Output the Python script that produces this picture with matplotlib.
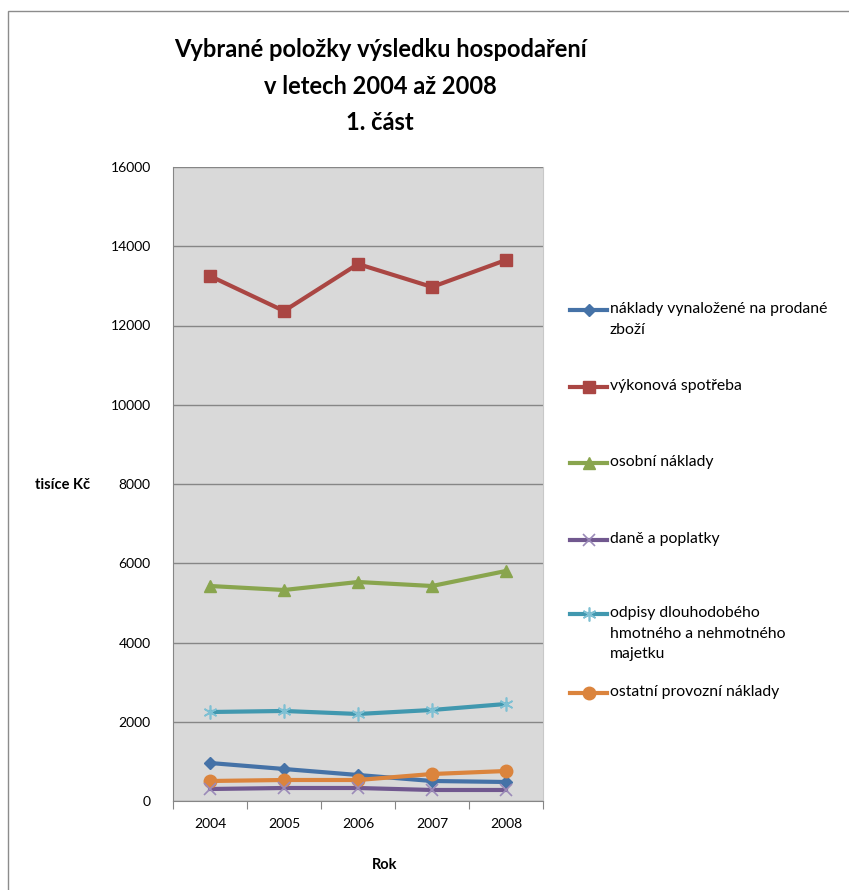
import matplotlib.pyplot as plt
from matplotlib.lines import Line2D
from matplotlib.patches import Rectangle

plt.rcParams['font.family'] = ['Lato', 'DejaVu Sans']

years = ['2004', '2005', '2006', '2007', '2008']

naklady_zbozi = [959, 808, 656, 505, 480]
vykonova_spotreba = [13249, 12366, 13552, 12972, 13653]
osobni_naklady = [5426, 5325, 5527, 5426, 5805]
dane_poplatky = [303, 328, 328, 278, 278]
odpisy = [2246, 2272, 2196, 2297, 2448]
ostatni_naklady = [505, 530, 530, 681, 757]

labels = ['náklady vynaložené na prodané\nzboží',
          'výkonová spotřeba',
          'osobní náklady',
          'daně a poplatky',
          'odpisy dlouhodobého\nhmotného a nehmotného\nmajetku',
          'ostatní provozní náklady']

series = [naklady_zbozi, vykonova_spotreba, osobni_naklady,
          dane_poplatky, odpisy, ostatni_naklady]
colors = ['#4572A7', '#AA4643', '#89A54E', '#71588F', '#4198AF', '#DB843D']
markers = ['D', 's', '^', 'x', '*', 'o']
msizes = [6, 9, 8, 8, 10, 9]

W, H = 849, 890
fig = plt.figure(figsize=(W / 100, H / 100), dpi=100)

# outer chart frame
fig.add_artist(Rectangle((8 / W, -0.1), 1.2, 1 - 11 / H + 0.1, transform=fig.transFigure,
                         fill=False, edgecolor='#8c8c8c', linewidth=1))

ax = fig.add_axes([173 / W, 1 - 801 / H, 370 / W, 634 / H])
ax.set_facecolor('#D9D9D9')

x = list(range(len(years)))
for vals, c, m, ms in zip(series, colors, markers, msizes):
    if m == 'x':
        ax.plot(x, vals, color=c, linewidth=3, zorder=3)
        ax.plot(x, vals, linestyle='none', marker='x', markersize=ms,
                markeredgecolor='#9b8ab8', markeredgewidth=1.2, zorder=4)
    elif m == '*':
        ax.plot(x, vals, color=c, linewidth=3, zorder=3)
        ax.plot(x, vals, linestyle='none', marker=(6, 2, 0), markersize=ms,
                markeredgecolor='#7fc0d3', markeredgewidth=1.2, zorder=4)
    else:
        ax.plot(x, vals, color=c, linewidth=3, marker=m, markersize=ms,
                markeredgecolor=c, zorder=3)

ax.set_xlim(-0.5, 4.5)
ax.set_ylim(0, 16000)
ax.set_yticks(range(0, 16001, 2000))
ax.yaxis.grid(True, color='#868686', linewidth=1)
ax.set_axisbelow(True)
ax.tick_params(axis='y', length=0, labelsize=10, pad=16)

ax.set_xticks([i - 0.5 for i in range(len(years) + 1)])
ax.set_xticklabels([])
ax.set_xticks(x, minor=True)
ax.set_xticklabels(years, minor=True)
ax.tick_params(axis='x', which='major', length=6, color='#868686', direction='out')
ax.tick_params(axis='x', which='minor', length=0, labelsize=10, pad=12)

ax.spines['top'].set_visible(False)
ax.spines['right'].set_color('#c8c8c8')
ax.spines['left'].set_color('#868686')
ax.spines['bottom'].set_color('#868686')

fig.text(380 / W, 1 - 86 / H, 'Vybrané položky výsledku hospodaření\nv letech 2004 až 2008\n1. část',
         ha='center', va='center', fontsize=17, fontweight='bold', linespacing=1.72)
fig.text(63 / W, 1 - 485 / H, 'tisíce Kč', ha='center', va='center',
         fontsize=10.5, fontweight='bold')
fig.text(385 / W, 1 - 865 / H, 'Rok', ha='center', va='center',
         fontsize=10.5, fontweight='bold')

# legend entries
leg_y = [310, 387, 463, 540, 614, 693]
for lab, c, m, ms, yy in zip(labels, colors, markers, msizes, leg_y):
    yf = 1 - yy / H
    fig.add_artist(Line2D([570 / W, 607 / W], [yf, yf], transform=fig.transFigure,
                          color=c, linewidth=3))
    if m == 'x':
        fig.add_artist(Line2D([588.5 / W], [yf], transform=fig.transFigure, marker='x',
                              markersize=ms, markeredgecolor='#9b8ab8', markeredgewidth=1.2))
    elif m == '*':
        fig.add_artist(Line2D([588.5 / W], [yf], transform=fig.transFigure, marker=(6, 2, 0),
                              markersize=ms, markeredgecolor='#7fc0d3', markeredgewidth=1.2))
    else:
        fig.add_artist(Line2D([588.5 / W], [yf], transform=fig.transFigure, marker=m,
                              markersize=ms, color=c))
    fig.text(610 / W, yf + 8 / H, lab, ha='left', va='top', fontsize=11.3,
             linespacing=1.6)

fig.savefig('out.png', dpi=100)
